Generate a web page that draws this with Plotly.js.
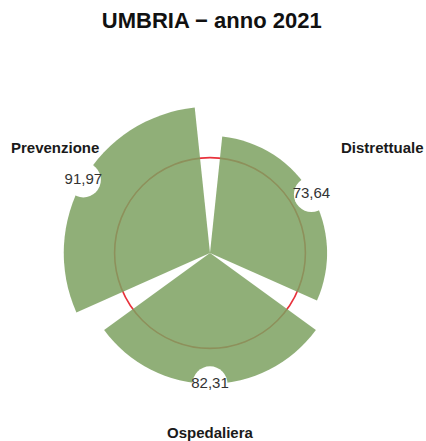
<!DOCTYPE html>
<html>
<head>
<meta charset="utf-8">
<script src="https://cdn.plot.ly/plotly-3.0.1.min.js"></script>
<style>html,body{margin:0;padding:0;background:#fff;}#chart{width:426px;height:441px;}</style>
</head>
<body>
<div id="chart"></div>
<script>
// Data
const categories = ["Prevenzione", "Distrettuale", "Ospedaliera"];
const values = [91.97, 73.64, 82.31];
const valueLabels = ["91,97", "73,64", "82,31"];
const threshold = [60];
const chartTitle = "UMBRIA \u2212 anno 2021";

// styling / placement constants (not data)
const RMAX = 100;
const ROTATION = 150;
const labelRadius = [118, 127, 113];
const labelShiftX = [7, -2, 0];
const labelShiftY = [12, 5, 0];
const FONT = "Liberation Sans, Arial, sans-serif";

const traces = [
  {
    type: "barpolar",
    r: values,
    theta: categories,
    marker: { color: "rgba(124,161,96,0.85)", line: { width: 0 } },
    hoverinfo: "skip"
  },
  {
    type: "scatterpolar",
    mode: "markers+text",
    r: values,
    theta: categories,
    text: valueLabels,
    textposition: "middle center",
    textfont: { family: FONT, size: 15, color: "#333333" },
    marker: { size: 35, color: "#ffffff", line: { width: 0 } },
    cliponaxis: false,
    hoverinfo: "skip"
  }
];

// category labels: placed around the polar domain (square, centred in the plot area)
const annotations = categories.map((c, i) => {
  const a = (ROTATION - 360 / categories.length * i) * Math.PI / 180;
  const f = labelRadius[i] / RMAX * 0.5;
  return {
    xref: "paper",
    yref: "paper",
    x: 0.5 + f * Math.cos(a),
    y: 0.5 + f * Math.sin(a),
    xshift: labelShiftX[i],
    yshift: labelShiftY[i],
    text: "<b>" + c + "</b>",
    showarrow: false,
    xanchor: "center",
    yanchor: "middle",
    font: { family: FONT, size: 15, color: "#1a1a1a" }
  };
});

const layout = {
  width: 426,
  height: 441,
  paper_bgcolor: "#ffffff",
  plot_bgcolor: "rgba(0,0,0,0)",
  margin: { l: 51, r: 57, t: 94, b: 29 },
  showlegend: false,
  hovermode: false,
  title: {
    text: "<b>" + chartTitle + "</b>",
    x: 0.497, xanchor: "center",
    y: 1 - 20 / 441, yref: "container", yanchor: "middle",
    font: { family: FONT, size: 22, color: "#111111" }
  },
  annotations: annotations,
  polar: {
    domain: { x: [0, 1], y: [0, 1] },
    bgcolor: "rgba(0,0,0,0)",
    bargap: 0.1,
    radialaxis: {
      range: [0, RMAX],
      tickvals: threshold,
      showticklabels: false,
      ticks: "",
      showline: false,
      showgrid: true,
      gridcolor: "#e8323c",
      gridwidth: 1.6
    },
    angularaxis: {
      type: "category",
      categoryorder: "array",
      categoryarray: categories,
      rotation: ROTATION,
      direction: "clockwise",
      showline: false,
      showgrid: false,
      showticklabels: false,
      ticks: ""
    }
  }
};

Plotly.newPlot("chart", traces, layout, { displayModeBar: false, staticPlot: true });
</script>
</body>
</html>
